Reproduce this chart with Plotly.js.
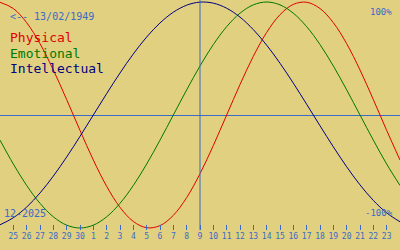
<!DOCTYPE html>
<html>
<head>
<meta charset="utf-8">
<script src="https://cdn.plot.ly/plotly-3.0.1.min.js"></script>
<style>
html,body{margin:0;padding:0;background:#E0D080;}
#chart{width:400px;height:250px;}
</style>
</head>
<body>
<div id="chart"></div>
<script>
// Day index 0..30 : 24 Nov 2025 .. 24 Dec 2025
const dayIndex = [0,1,2,3,4,5,6,7,8,9,10,11,12,13,14,15,16,17,18,19,20,21,22,23,24,25,26,27,28,29,30];
const dayLabels = ["24","25","26","27","28","29","30","1","2","3","4","5","6","7","8","9","10","11","12","13","14","15","16","17","18","19","20","21","22","23","24"];
const tickIndex = [1,2,3,4,5,6,7,8,9,10,11,12,13,14,15,16,17,18,19,20,21,22,23,24,25,26,27,28,29];
const todayIndex = 15;

const physical = [0.9977,0.9423,0.8170,0.6311,0.3984,0.1362,-0.1362,-0.3984,-0.6311,-0.8170,-0.9423,-0.9977,-0.9791,-0.8879,-0.7308,-0.5196,-0.2698,0,0.2698,0.5196,0.7308,0.8879,0.9791,0.9977,0.9423,0.8170,0.6311,0.3984,0.1362,-0.1362,-0.3984];
const emotional = [-0.2225,-0.4339,-0.6235,-0.7818,-0.9010,-0.9749,-1,-0.9749,-0.9010,-0.7818,-0.6235,-0.4339,-0.2225,0,0.2225,0.4339,0.6235,0.7818,0.9010,0.9749,1,0.9749,0.9010,0.7818,0.6235,0.4339,0.2225,0,-0.2225,-0.4339,-0.6235];
const intellectual = [-0.9718,-0.9096,-0.8146,-0.6901,-0.5406,-0.3717,-0.1893,0,0.1893,0.3717,0.5406,0.6901,0.8146,0.9096,0.9718,0.9989,0.9898,0.9450,0.8660,0.7557,0.6182,0.4582,0.2817,0.0951,-0.0951,-0.2817,-0.4582,-0.6182,-0.7557,-0.8660,-0.9450];

const BLUE = '#3A6BC8';
const FONT = 'DejaVu Sans Mono, Liberation Mono, monospace';

function line(y, color){
  return {x: dayIndex, y: y, type:'scatter', mode:'lines',
          line:{color:color, width:1, shape:'spline', smoothing:1},
          hoverinfo:'skip', showlegend:false};
}

const data = [line(physical,'#E00000'), line(emotional,'#007800'), line(intellectual,'#000080')];

const tickLabels = tickIndex.map(i => dayLabels[i]);

const layout = {
  width:400, height:250,
  margin:{l:0,r:0,t:0,b:20,pad:0},
  paper_bgcolor:'#E0D080', plot_bgcolor:'#E0D080',
  showlegend:false,
  xaxis:{range:[0,30], showgrid:false, zeroline:false, showline:false,
         tickmode:'array', tickvals:tickIndex, ticktext:tickLabels,
         ticks:'inside', ticklen:5, tickwidth:1, tickcolor:BLUE,
         tickfont:{family:FONT, size:8, color:BLUE}, fixedrange:true},
  yaxis:{range:[-1.0177,1.0177], showgrid:false, showticklabels:false,
         zeroline:true, zerolinecolor:BLUE, zerolinewidth:1, showline:false, ticks:'', fixedrange:true},
  shapes:[{type:'line', xref:'x', yref:'paper', x0:todayIndex, x1:todayIndex, y0:0, y1:1,
           line:{color:BLUE, width:1}}],
  annotations:[
    {text:'&lt;-- 13/02/1949', xref:'paper', yref:'paper', x:8/400, y:1-16.5/230, xanchor:'left', yanchor:'middle', showarrow:false, font:{family:FONT,size:10,color:BLUE}},
    {text:'Physical', xref:'paper', yref:'paper', x:8/400, y:1-38/230, xanchor:'left', yanchor:'middle', showarrow:false, font:{family:FONT,size:13,color:'#E00000'}},
    {text:'Emotional', xref:'paper', yref:'paper', x:8/400, y:1-53/230, xanchor:'left', yanchor:'middle', showarrow:false, font:{family:FONT,size:13,color:'#007800'}},
    {text:'Intellectual', xref:'paper', yref:'paper', x:8/400, y:1-68/230, xanchor:'left', yanchor:'middle', showarrow:false, font:{family:FONT,size:13,color:'#000080'}},
    {text:'100%', xref:'paper', yref:'paper', x:394/400, y:1-12/230, xanchor:'right', yanchor:'middle', showarrow:false, font:{family:FONT,size:9,color:BLUE}},
    {text:'12-2025', xref:'paper', yref:'paper', x:2/400, y:1-213/230, xanchor:'left', yanchor:'middle', showarrow:false, font:{family:FONT,size:10,color:BLUE}},
    {text:'-100%', xref:'paper', yref:'paper', x:395/400, y:1-213/230, xanchor:'right', yanchor:'middle', showarrow:false, font:{family:FONT,size:9,color:BLUE}}
  ]
};

Plotly.newPlot('chart', data, layout, {staticPlot:true, displayModeBar:false});
</script>
</body>
</html>
